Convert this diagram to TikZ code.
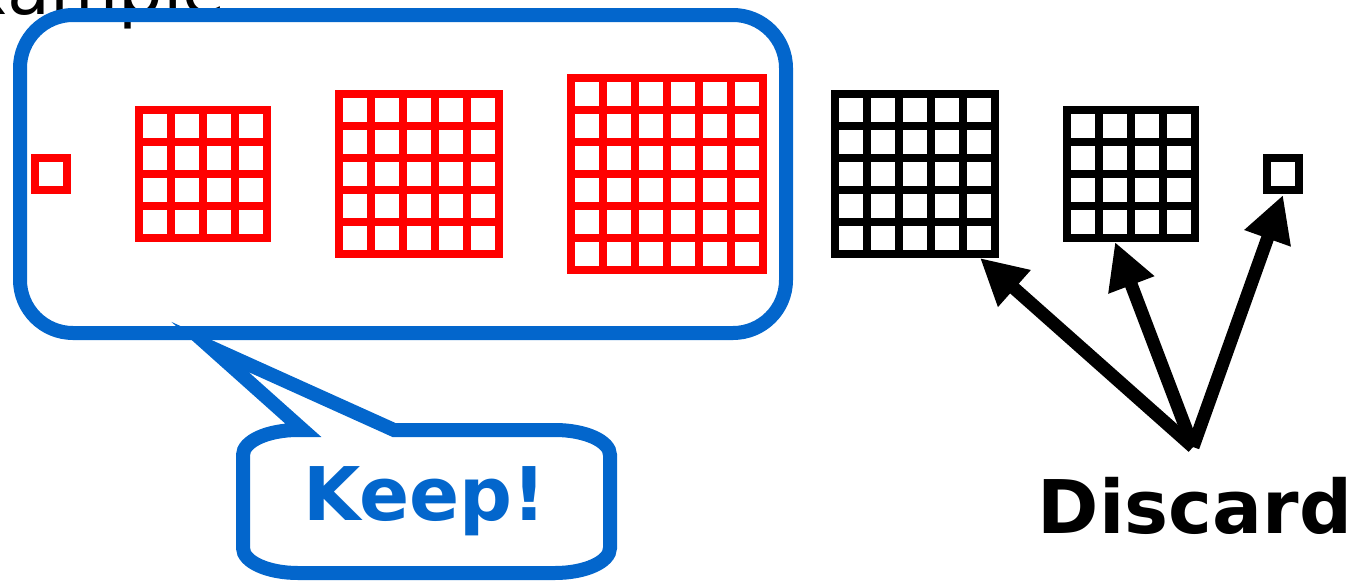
\documentclass[tikz,border=0pt]{standalone}
\usepackage{fontspec}
\setmainfont{DejaVu Sans}
\usetikzlibrary{arrows.meta,calc}
\definecolor{keepblue}{RGB}{3,102,204}
\begin{document}
\begin{tikzpicture}[x=1pt,y=-1pt,
  cells/.style={inner sep=0,outer sep=0,minimum size=#1*32},
  gridline/.style={line width=8,line cap=rect},
  keepline/.style={keepblue,line width=14},
  toss/.style={line width=13,-{Triangle[length=46pt,width=46pt]}},
  big/.style={font=\bfseries\fontsize{74}{74}\selectfont,anchor=base}]
\useasboundingbox(0,0)rectangle(1352,581);\clip(0,0)rectangle(1352,581);
\node[anchor=base west,inner sep=0,font=\fontsize{70}{70}\selectfont](title)at(-78,14){Example};
\foreach \nm/\cx/\n/\col in {k1/51/1/red,k4/203/4/red,k5/419/5/red,k6/667/6/red,d5/915/5/black,d4/1131/4/black,d1/1283/1/black}{
  \node[cells=\n](\nm)at(\cx,174){};
  \foreach \i in {0,...,\n}{\draw[gridline,\col]($(\nm.north west)+(\i*32,0)$)--($(\nm.south west)+(\i*32,0)$);\draw[gridline,\col]($(\nm.north west)+(0,\i*32)$)--($(\nm.north east)+(0,\i*32)$);}}
\node[keepline,draw,rounded corners=53pt,minimum width=766,minimum height=318](box)at(403,174){};
\coordinate(tip)at(210,347);
\draw[keepline](tip)--(394,430)--(555,430)arc[start angle=90,end angle=0,x radius=55pt,y radius=25pt]--(610,548)arc[start angle=0,end angle=-90,x radius=55pt,y radius=25pt]--(298,573)arc[start angle=270,end angle=180,x radius=55pt,y radius=25pt]--(243,455)arc[start angle=180,end angle=90,x radius=55pt,y radius=25pt]--(303,430)--cycle;
\node[big,keepblue](keep)at(425,520){Keep!};
\node[big](discard)at(1195,533){Discard};
\coordinate(src)at(1193,447);
\draw[toss](src)--($(d5.south)+(65,4)$);\draw[toss](src)--($(d4.south)+(-16,4)$);\draw[toss](src)--($(d1.south)+(0,5)$);
\end{tikzpicture}
\end{document}
